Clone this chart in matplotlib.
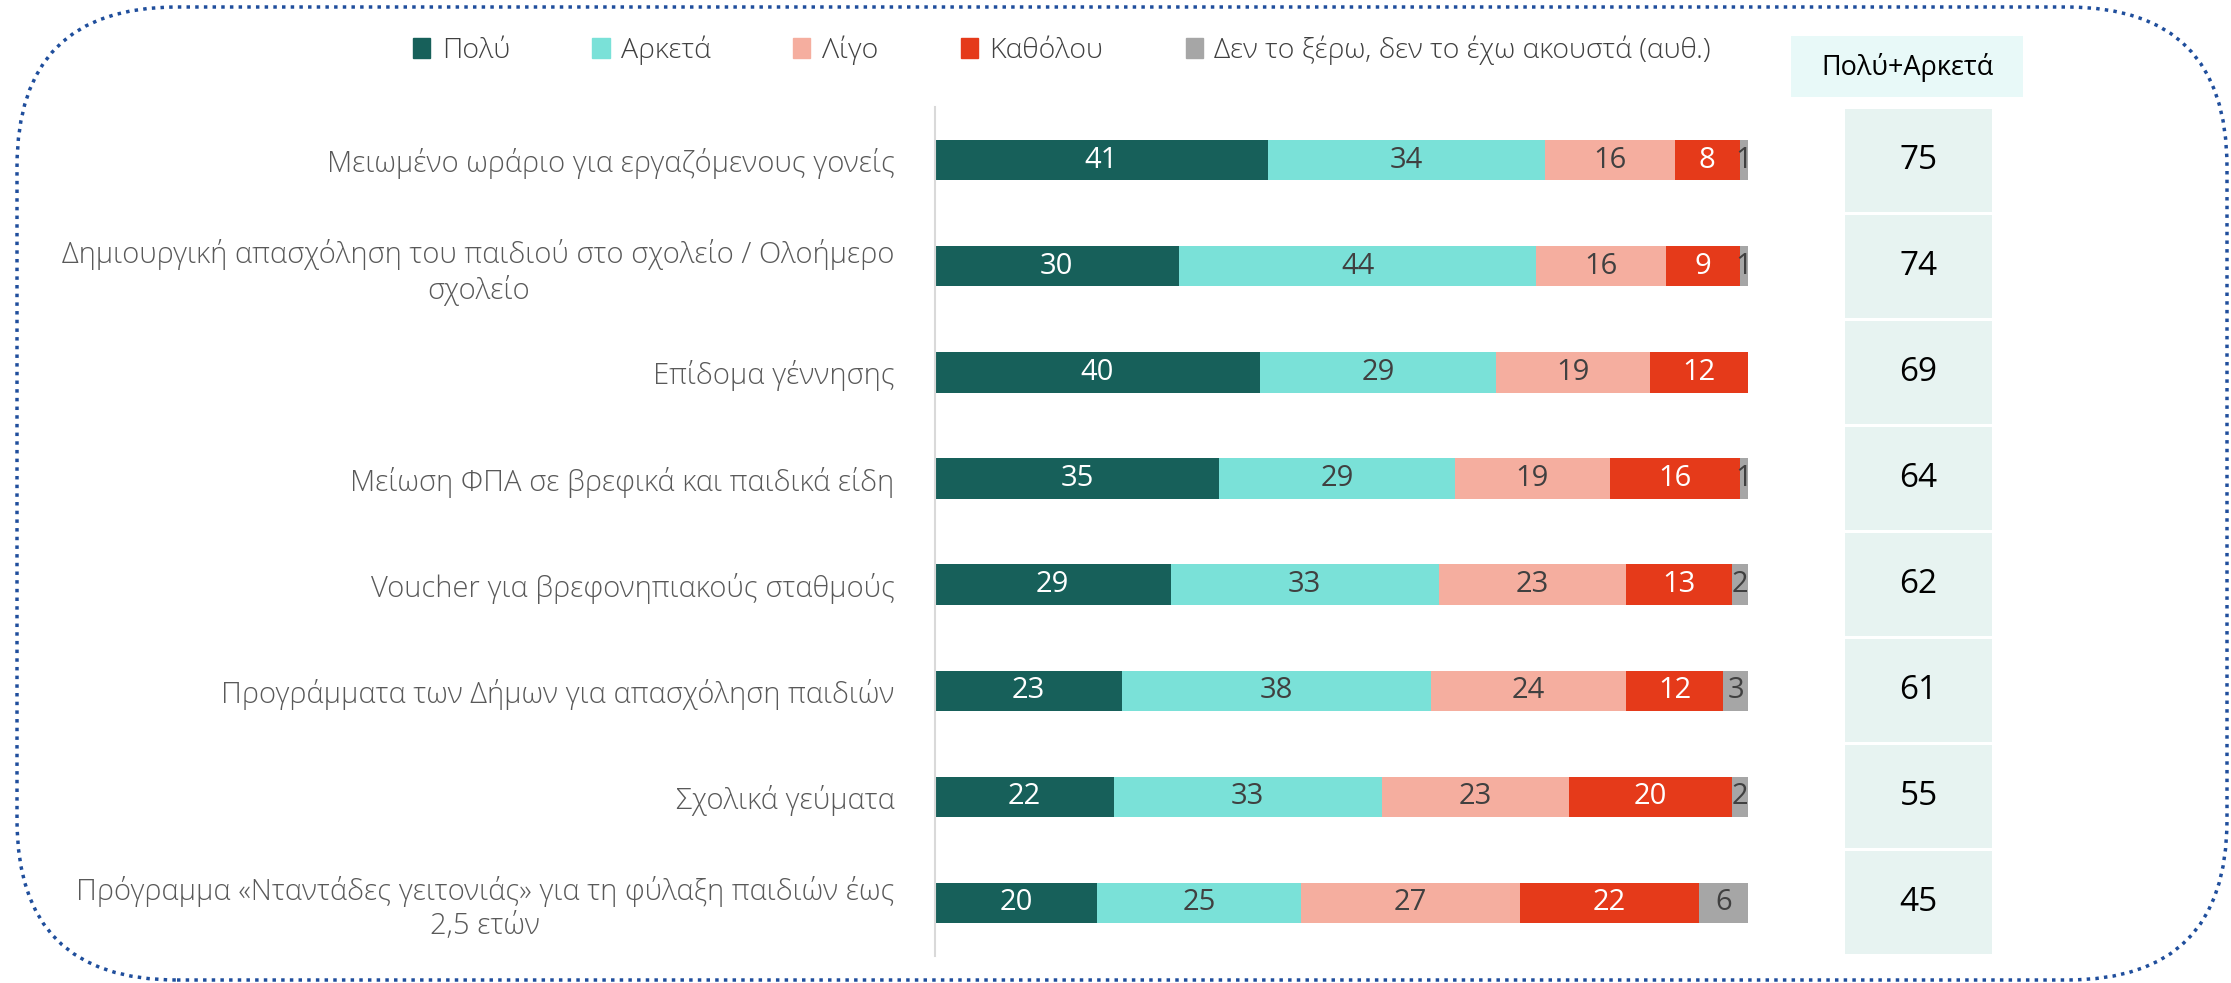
import numpy as np
import matplotlib.pyplot as plt
from matplotlib.patches import Patch, FancyBboxPatch, Rectangle

plt.rcParams['font.family'] = ['Open Sans', 'DejaVu Sans']

labels = [
    "Μειωμένο ωράριο για εργαζόμενους γονείς",
    "Δημιουργική απασχόληση του παιδιού στο σχολείο / Ολοήμερο\nσχολείο",
    "Επίδομα γέννησης",
    "Μείωση ΦΠΑ σε βρεφικά και παιδικά είδη",
    "Voucher για βρεφονηπιακούς σταθμούς",
    "Προγράμματα των Δήμων για απασχόληση παιδιών",
    "Σχολικά γεύματα",
    "Πρόγραμμα «Νταντάδες γειτονιάς» για τη φύλαξη παιδιών έως\n2,5 ετών",
]
series_names = ["Πολύ", "Αρκετά", "Λίγο", "Καθόλου", "Δεν το ξέρω, δεν το έχω ακουστά (αυθ.)"]
poly = [41, 30, 40, 35, 29, 23, 22, 20]
arketa = [34, 44, 29, 29, 33, 38, 33, 25]
ligo = [16, 16, 19, 19, 23, 24, 23, 27]
katholou = [8, 9, 12, 16, 13, 12, 20, 22]
den_xero = [1, 1, 0, 1, 2, 3, 2, 6]
poly_arketa = [75, 74, 69, 64, 62, 61, 55, 45]
header = "Πολύ+Αρκετά"

colors = ["#17605a", "#7ae1d8", "#f5ae9f", "#e53a1a", "#a6a6a6"]
text_colors = ["white", "#404040", "#404040", "white", "#404040"]

fig = plt.figure(figsize=(22.31, 9.83), dpi=100)
ax = fig.add_axes([0.419, 0.0275, 0.3644, 0.8635])

y = np.arange(len(labels))
left = np.zeros(len(labels))
for vals, name, c, tc in zip([poly, arketa, ligo, katholou, den_xero], series_names, colors, text_colors):
    vals = np.array(vals)
    ax.barh(y, vals, left=left, height=0.38, color=c, label=name)
    for yi, (l, v) in enumerate(zip(left, vals)):
        if v > 0:
            ax.text(l + v / 2, yi, str(v), ha="center", va="center", color=tc, fontsize=21)
    left += vals

ax.set_xlim(0, 100)
ax.set_ylim(len(labels) - 0.5, -0.5)
ax.set_yticks(y)
ax.set_yticklabels(labels, fontsize=21, color="#595959", multialignment="center", fontweight="light")
ax.tick_params(axis="y", length=0, pad=29)
ax.set_xticks([])
for s in ["top", "right", "bottom"]:
    ax.spines[s].set_visible(False)
ax.spines["left"].set_color("#d9d9d9")
ax.spines["left"].set_linewidth(1.5)

# Πολύ+Αρκετά column
ax2 = fig.add_axes([0.827, 0.0275, 0.0659, 0.8635])
ax2.set_xlim(0, 1)
ax2.set_ylim(len(labels) - 0.5, -0.5)
ax2.axis("off")
for yi, v in enumerate(poly_arketa):
    ax2.add_patch(Rectangle((0, yi - 0.485), 1, 0.97, color="#e7f3f1", lw=0))
    ax2.text(0.5, yi, str(v), ha="center", va="center", fontsize=24, color="black")

fig.patches.append(Rectangle((1791 / 2231, 1 - 97 / 983), 232 / 2231, 61 / 983,
                             transform=fig.transFigure, color="#e8f9f8", lw=0))
fig.text(1907 / 2231, 1 - 68 / 983, header, ha="center", va="center", fontsize=19.5, color="black")

handles = [Patch(color=c) for c in colors]
fig.legend(handles, series_names, loc="center", bbox_to_anchor=(0.476, 0.949), ncol=5,
           frameon=False, prop={"size": 20.5, "weight": "light"}, labelcolor="#404040",
           handlelength=0.6, handleheight=0.7, handletextpad=0.4, columnspacing=2.9)

border = FancyBboxPatch((0.17, 0.03), 22.1, 9.73, boxstyle="round,pad=0,rounding_size=1.6",
                        transform=fig.dpi_scale_trans, fill=False, edgecolor="#1f4e9c",
                        linestyle=(0, (1, 1.5)), linewidth=2.5)
fig.patches.append(border)

fig.savefig("out.png", dpi=100)
